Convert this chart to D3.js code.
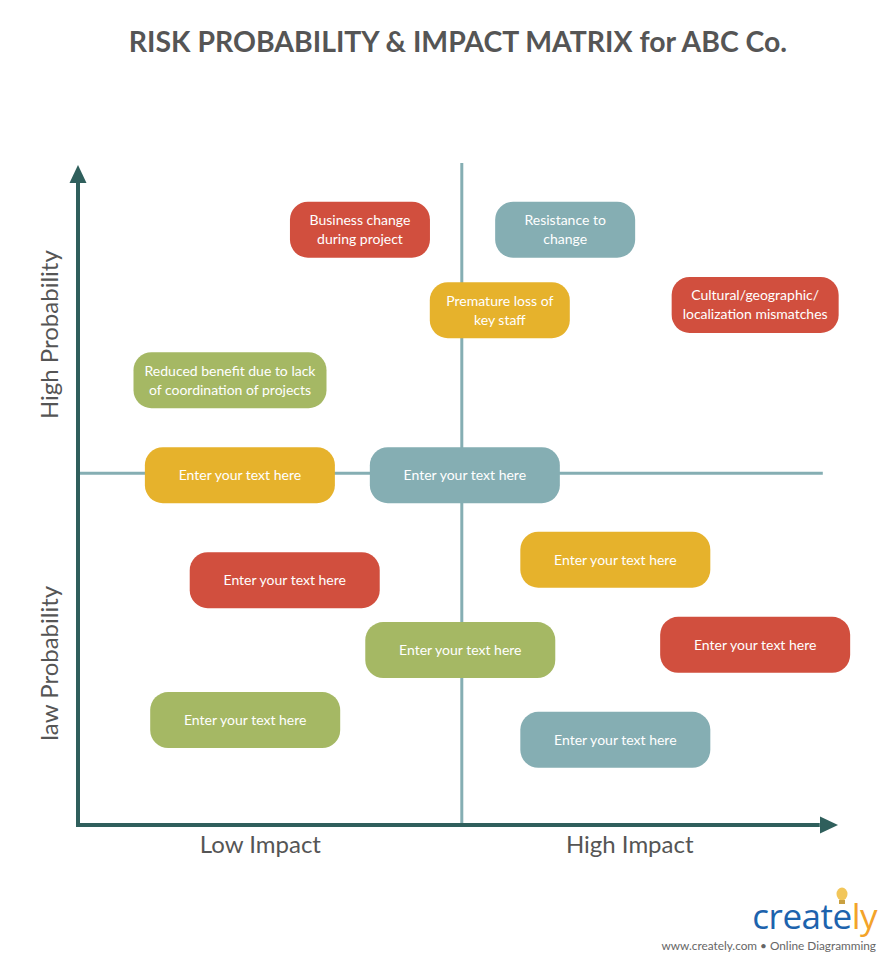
<!DOCTYPE html>
<html><head><meta charset="utf-8">
<script src="https://cdn.jsdelivr.net/npm/d3@7"></script>
<style>
html,body{margin:0;padding:0;background:#fff;}
svg{display:block;font-family:Lato,"Open Sans",sans-serif;}
</style></head>
<body>
<svg id="chart" width="890" height="960"></svg>
<script>
// ---- data ----
const title = "RISK PROBABILITY & IMPACT MATRIX for ABC Co.";
const impactLabels = ["Low Impact", "High Impact"];
const probabilityLabels = ["law Probability", "High Probability"];
const riskTexts = [
  ["Business change", "during project"],
  ["Resistance to", "change"],
  ["Premature loss of", "key staff"],
  ["Cultural/geographic/", "localization mismatches"],
  ["Reduced benefit due to lack", "of coordination of projects"],
  ["Enter your text here"],
  ["Enter your text here"],
  ["Enter your text here"],
  ["Enter your text here"],
  ["Enter your text here"],
  ["Enter your text here"],
  ["Enter your text here"],
  ["Enter your text here"]
];
const riskImpact =      [3.71, 6.41, 5.55, 8.91, 2.00, 2.13, 5.09, 7.07, 2.72, 8.91, 5.03, 2.20, 7.07];
const riskProbability = [9.02, 9.02, 7.80, 7.88, 6.74, 5.30, 5.30, 4.02, 3.71, 2.73, 2.65, 1.59, 1.29];
const riskLevel = ["high", "medium", "low-high", "high", "low", "low-high", "medium", "low-high", "high", "high", "low", "low", "medium"];

// ---- styles ----
const levelColor = {"high": "#d14f3e", "medium": "#85aeb3", "low-high": "#e6b22c", "low": "#a5b864"};
const axisColor = "#2f5f5c";
const dividerColor = "#85aeb3";

const svg = d3.select("#chart");
const x = d3.scaleLinear().domain([0, 10]).range([78, 838]);
const y = d3.scaleLinear().domain([0, 10]).range([825, 165]);

// title
svg.append("text").attr("x", 458).attr("y", 52).attr("text-anchor", "middle")
  .attr("font-size", 28.4).attr("font-weight", "bold").attr("fill", "#555")
  .text(title);

// dividers
svg.append("line").attr("x1", x(5.05)).attr("x2", x(5.05)).attr("y1", y(10.03)).attr("y2", y(0))
  .attr("stroke", dividerColor).attr("stroke-width", 3);
svg.append("line").attr("x1", x(0)).attr("x2", x(9.8)).attr("y1", y(5.33)).attr("y2", y(5.33))
  .attr("stroke", dividerColor).attr("stroke-width", 3);

// axes
svg.append("line").attr("x1", x(0)).attr("x2", x(9.76)).attr("y1", y(0)).attr("y2", y(0))
  .attr("stroke", axisColor).attr("stroke-width", 4);
svg.append("line").attr("x1", x(0)).attr("x2", x(0)).attr("y1", y(0) + 2).attr("y2", y(9.75))
  .attr("stroke", axisColor).attr("stroke-width", 4);
// arrowheads
const xe = x(10), ye = y(0);
svg.append("path").attr("d", `M${xe},${ye} L${xe - 18},${ye - 8.5} L${xe - 18},${ye + 8.5} Z`).attr("fill", axisColor);
const xt = x(0), yt = y(10);
svg.append("path").attr("d", `M${xt},${yt} L${xt - 8.5},${yt + 18} L${xt + 8.5},${yt + 18} Z`).attr("fill", axisColor);

// axis labels
svg.selectAll("text.ximp").data(impactLabels).join("text").attr("class", "ximp")
  .attr("x", (d, i) => x(i === 0 ? 2.40 : 7.26)).attr("y", 853)
  .attr("text-anchor", "middle").attr("font-size", 24).attr("fill", "#555").text(d => d);
svg.selectAll("text.yprob").data(probabilityLabels).join("text").attr("class", "yprob")
  .attr("transform", (d, i) => `translate(58,${y(i === 0 ? 2.45 : 7.43)}) rotate(-90)`)
  .attr("text-anchor", "middle").attr("font-size", 24).attr("fill", "#555").text(d => d);

// risk boxes
const risks = riskTexts.map((t, i) => ({lines: t, impact: riskImpact[i], prob: riskProbability[i], level: riskLevel[i]}));
const g = svg.append("g");
const nodes = g.selectAll("g.risk").data(risks).join("g").attr("class", "risk")
  .attr("transform", d => `translate(${x(d.impact)},${y(d.prob)})`);
nodes.each(function(d) {
  const sel = d3.select(this);
  const single = d.lines.length === 1;
  const fs = 14;
  const lh = 19;
  const texts = sel.selectAll("text").data(d.lines).join("text")
    .attr("x", 0).attr("y", (l, j) => (j - (d.lines.length - 1) / 2) * lh + fs * 0.36)
    .attr("text-anchor", "middle").attr("font-size", fs).attr("fill", "#fff").text(l => l);
  let tw = 0;
  texts.each(function() { tw = Math.max(tw, this.getComputedTextLength()); });
  const w = single ? 190 : Math.max(140, Math.round(tw + 22));
  const h = 56;
  sel.insert("rect", "text").attr("x", -w / 2).attr("y", -h / 2).attr("width", w).attr("height", h)
    .attr("rx", 18).attr("ry", 18).attr("fill", levelColor[d.level]);
});

// logo
const logo = svg.append("g");
logo.append("text").attr("x", 877).attr("y", 929).attr("text-anchor", "end")
  .attr("font-size", 35).attr("font-family", "'Open Sans',Lato,sans-serif").attr("letter-spacing", -0.5)
  .html('<tspan fill="#1d63ad">create</tspan><tspan fill="#f3a32a">ly</tspan>');
logo.append("ellipse").attr("cx", 842).attr("cy", 894).attr("rx", 5.5).attr("ry", 6.5).attr("fill", "#f2c65a");
logo.append("rect").attr("x", 839).attr("y", 900).attr("width", 6).attr("height", 4).attr("fill", "#c9a040");
logo.append("text").attr("x", 876).attr("y", 950).attr("text-anchor", "end")
  .attr("font-size", 11.8).attr("fill", "#666").text("www.creately.com \u2022 Online Diagramming");
</script>
</body></html>
